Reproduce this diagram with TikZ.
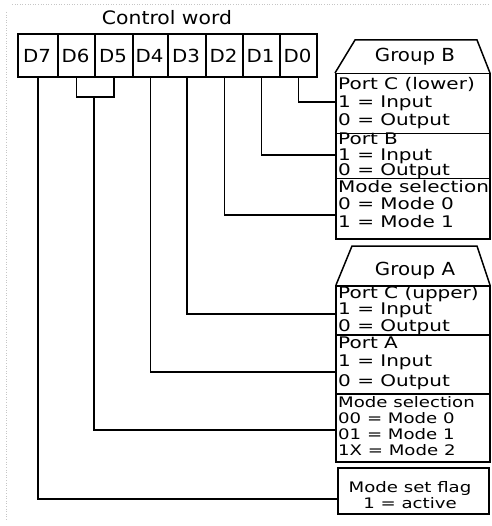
\documentclass[tikz,border=0pt]{standalone}
\usepackage{fontspec}
\setmainfont{DejaVu Sans}[FakeStretch=1.1]
\newfontfamily\boxfont{DejaVu Sans}[FakeStretch=1.25]
\begin{document}
\begin{tikzpicture}[x=1pt,y=-1pt,line join=miter]
\tikzset{
  cell/.style={draw,line width=1.8pt,minimum height=43pt,inner sep=0pt,anchor=north west},
  clab/.style={anchor=base,inner sep=0pt,font=\fontsize{18}{18}\selectfont},
  wire/.style={line width=1.8pt},
  grp/.style={draw,line width=1.5pt},
  pbox/.style={draw,line width=1.5pt,anchor=north west,inner sep=0pt,minimum width=154pt},
  txt/.style={anchor=base west,inner sep=0pt,font=\boxfont\fontsize{16}{16}\selectfont},
  stxt/.style={anchor=base west,inner sep=0pt,font=\boxfont\fontsize{14.5}{14.5}\selectfont},
  ctxt/.style={anchor=base,inner sep=0pt,font=\boxfont\fontsize{14.5}{14.5}\selectfont},
  gtxt/.style={anchor=base,inner sep=0pt,font=\fontsize{18}{18}\selectfont},
  scan/.style={gray!45,dotted,line width=0.6pt}
}
\useasboundingbox (0,0) rectangle (491,526);
% scan artefacts
\draw[scan] (12,4) -- (488,4);
\draw[scan] (6,12) -- (6,520);
% title
\node[anchor=base,inner sep=0pt,font=\fontsize{18.5}{18.5}\selectfont] (title) at (167,25) {Control word};
% register cells
\node[cell,minimum width=40pt] (d7) at (17,33) {};
\node[cell,minimum width=37pt] (d6) at (57,33) {};
\node[cell,minimum width=38pt] (d5) at (94,33) {};
\node[cell,minimum width=35pt] (d4) at (132,33) {};
\node[cell,minimum width=38pt] (d3) at (167,33) {};
\node[cell,minimum width=37pt] (d2) at (205,33) {};
\node[cell,minimum width=37pt] (d1) at (242,33) {};
\node[cell,minimum width=37pt] (d0) at (279,33) {};
\node[clab] (l7) at (37,63) {D7};
\node[clab] (l6) at (75.5,63) {D6};
\node[clab] (l5) at (113,63) {D5};
\node[clab] (l4) at (149.5,63) {D4};
\node[clab] (l3) at (186,63) {D3};
\node[clab] (l2) at (223.5,63) {D2};
\node[clab] (l1) at (260.5,63) {D1};
\node[clab] (l0) at (297.5,63) {D0};
% Group B
\draw[grp] (335,73) -- (355,40) -- (477,40) -- (490,73);
\node[gtxt] (gb) at (415,62) {Group B};
\node[pbox,minimum height=60pt] (b1) at (335,73) {};
\node[pbox,minimum height=45pt] (b2) at (335,133) {};
\node[pbox,minimum height=60pt] (b3) at (335,178) {};
\node[txt] (b1a) at (338,90) {Port C (lower)};
\node[txt] (b1b) at (338,108) {1 = Input};
\node[txt] (b1c) at (338,126) {0 = Output};
\node[txt] (b2a) at (338,145) {Port B};
\node[txt] (b2b) at (338,160.5) {1 = Input};
\node[txt] (b2c) at (338,176) {0 = Output};
\node[txt] (b3a) at (338,193) {Mode selection};
\node[txt] (b3b) at (338,210) {0 = Mode 0};
\node[txt] (b3c) at (338,227) {1 = Mode 1};
% Group A
\draw[grp] (336,285) -- (352,246) -- (477,246) -- (490,285);
\node[gtxt] (ga) at (415,275) {Group A};
\node[pbox,minimum height=49pt] (a1) at (335,285) {};
\node[pbox,minimum height=59pt] (a2) at (335,334) {};
\node[pbox,minimum height=68pt] (a3) at (335,393) {};
\node[txt] (a1a) at (338,298) {Port C (upper)};
\node[txt] (a1b) at (338,314.5) {1 = Input};
\node[txt] (a1c) at (338,331) {0 = Output};
\node[txt] (a2a) at (338,348) {Port A};
\node[txt] (a2b) at (338,366) {1 = Input};
\node[txt] (a2c) at (338,386) {0 = Output};
\node[stxt] (a3a) at (338,407) {Mode selection};
\node[stxt] (a3b) at (338,423) {00 = Mode 0};
\node[stxt] (a3c) at (338,439) {01 = Mode 1};
\node[stxt] (a3d) at (338,455) {1X = Mode 2};
% mode set flag
\node[pbox,minimum width=151pt,minimum height=46pt] (fl) at (337,467) {};
\node[ctxt] (fla) at (410,492) {Mode set flag};
\node[ctxt] (flb) at (410,508) {1 = active};
% connectors
\coordinate (e0) at (335,102);
\coordinate (e1) at (335,155);
\coordinate (e2) at (335,215);
\coordinate (e3) at (335,314);
\coordinate (e4) at (335,372);
\coordinate (e56) at (335,430);
\coordinate (e7) at (337,499);
\coordinate (j) at (94.25,97);
\draw[wire] (d0.south) |- (e0);
\draw[wire] (d1.south) |- (e1);
\draw[wire] (d2.south) |- (e2);
\draw[wire] (d3.south) |- (e3);
\draw[wire] (d4.south) |- (e4);
\draw[wire] (d6.south) -- (d6.south |- j) -- (d5.south |- j) -- (d5.south);
\draw[wire] (j) |- (e56);
\draw[wire] (d7.south) |- (e7);
\end{tikzpicture}
\end{document}
